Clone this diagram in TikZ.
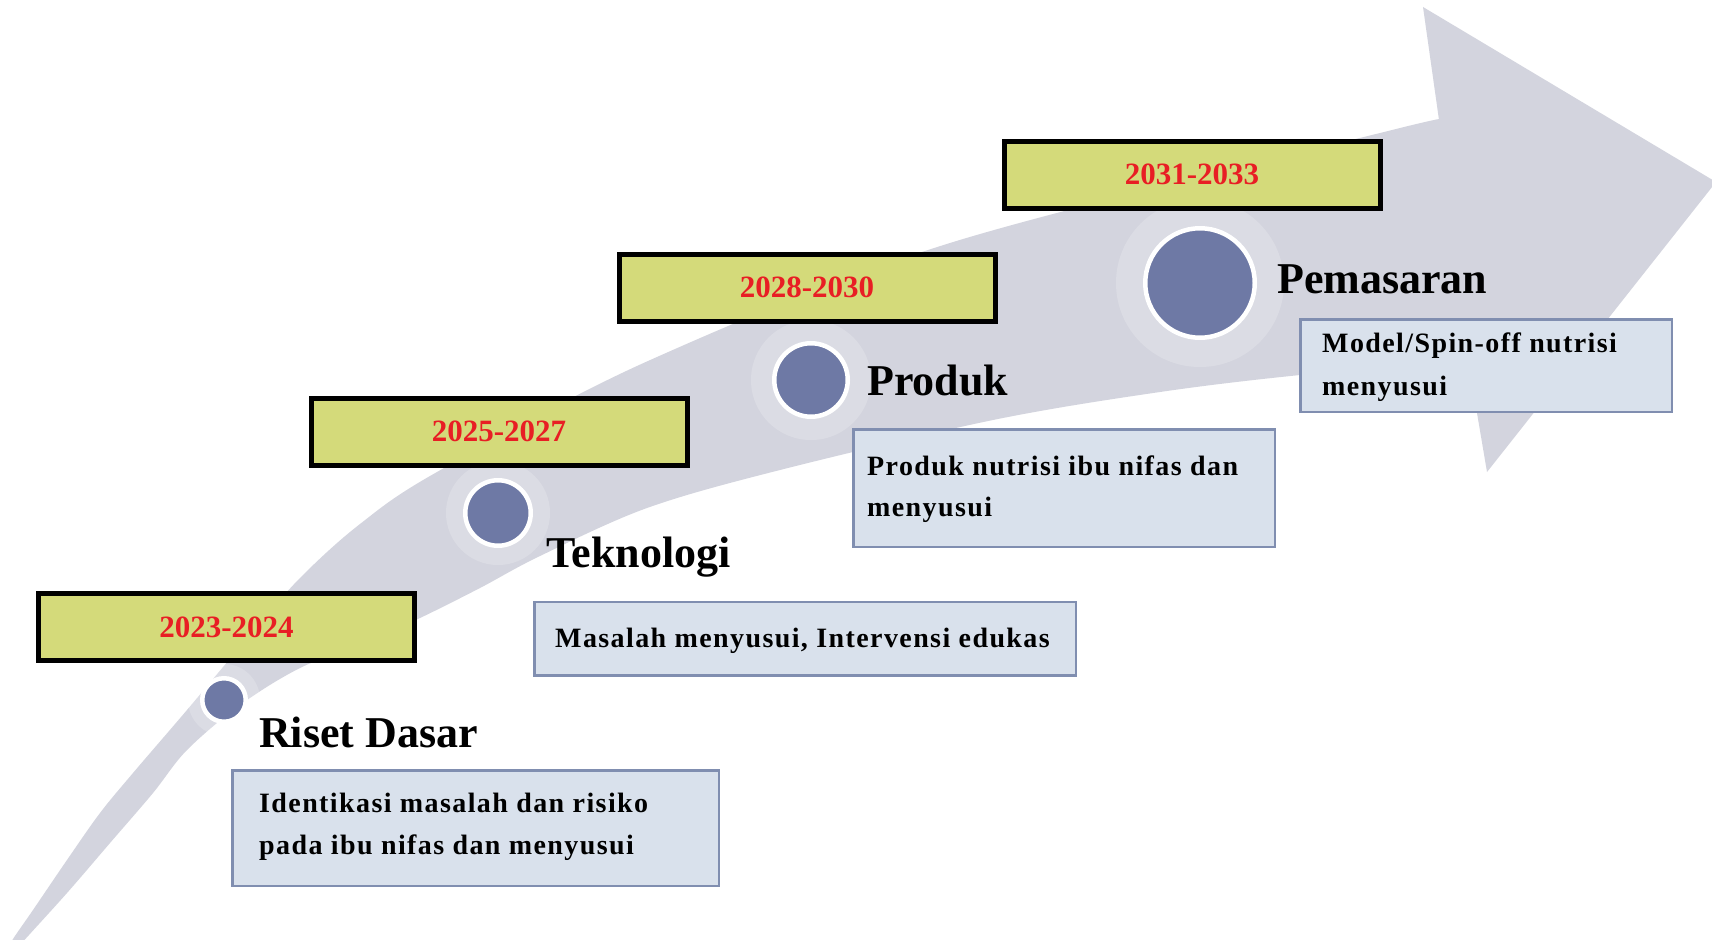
\documentclass[tikz,border=0pt]{standalone}
\usepackage{fontspec}
\setmainfont{Liberation Serif}
\newfontfamily\descfont[LetterSpace=5]{Liberation Serif}
\definecolor{band}{RGB}{211,212,222}
\definecolor{dotc}{RGB}{110,121,165}
\definecolor{yearfill}{RGB}{212,218,122}
\definecolor{yearred}{RGB}{232,30,36}
\definecolor{descfill}{RGB}{217,225,236}
\definecolor{descline}{RGB}{128,142,176}
\tikzset{
  dot/.style={circle, draw=white, line width=4.5pt, fill=dotc, inner sep=0pt},
  halo/.style={fill=white, fill opacity=0.2},
  yearbox/.style={rectangle, draw=black, line width=5pt, fill=yearfill, inner sep=0pt,
    minimum width=376pt, minimum height=67pt,
    font=\fontsize{31}{36}\selectfont\bfseries, text=yearred},
  descbox/.style={rectangle, draw=descline, line width=2.5pt, fill=descfill, inner sep=0pt},
  head/.style={anchor=base west, inner sep=0pt, font=\fontsize{44}{50}\selectfont\bfseries},
  desc/.style={anchor=base west, inner sep=0pt, font=\descfont\fontsize{28}{34}\selectfont\bfseries}
}
\begin{document}
\begin{tikzpicture}[x=1pt,y=-1pt]
\useasboundingbox (0,0) rectangle (1712,939);
\clip (0,0) rectangle (1712,939);
\fill[white] (0,0) rectangle (1712,939);
% curved arrow band
\fill[band] plot[smooth, tension=0.55] coordinates {(2,958) (13,939) (33,910) (67,860) (100,813) (133,773) (187,710) (250,635) (300,578) (360,524) (437,472) (648,361) (950,243) (1384,132) (1439,120)}
  -- (1423,7) -- (1716,182) -- (1487,472) -- (1468,360)
  -- plot[smooth, tension=0.55] coordinates {(1468,360) (1300,375) (1160,392) (993,420) (780,470) (647,508) (540,556) (480,588) (420,618) (370,640) (300,668) (240,705) (187,750) (153,793) (110,843) (67,893) (20,945) (10,958)}
  -- cycle;
% halos
\fill[halo] (224,700) circle (36);
\fill[halo] (498,513) circle (52);
\fill[halo] (811,380) circle (60);
\fill[halo] (1200,283) circle (84);
% year boxes
\node[yearbox] (y1) at (226.5,627) {2023-2024};
\node[yearbox] (y2) at (499,431.5) {2025-2027};
\node[yearbox] (y3) at (807,287.5) {2028-2030};
\node[yearbox] (y4) at (1192,174.5) {2031-2033};
% dots
\node[dot, minimum size=43.5pt] (c1) at (224,700) {};
\node[dot, minimum size=65.5pt] (c2) at (498,513) {};
\node[dot, minimum size=73.5pt] (c3) at (811,380) {};
\node[dot, minimum size=109.5pt] (c4) at (1200,283) {};
% headings
\node[head] (h1) at (259,747) {Riset Dasar};
\node[head] (h2) at (546,567) {Teknologi};
\node[head] (h3) at (867,395) {Produk};
\node[head] (h4) at (1277,293) {Pemasaran};
% description boxes
\node[descbox, minimum width=486.5pt, minimum height=115.5pt] (d1) at (475.5,828) {};
\node[descbox, minimum width=541.5pt, minimum height=73.5pt] (d2) at (805,638.5) {};
\node[descbox, minimum width=421.5pt, minimum height=117.5pt] (d3) at (1064,488) {};
\node[descbox, minimum width=371.5pt, minimum height=92.5pt] (d4) at (1486,365.5) {};
% description texts
\node[desc] (t1a) at (259,812) {Identikasi masalah dan risiko};
\node[desc] (t1b) at (259,854) {pada ibu nifas dan menyusui};
\node[desc] (t2a) at (555,647) {Masalah menyusui, Intervensi edukas};
\node[desc] (t3a) at (867,475) {Produk nutrisi ibu nifas dan};
\node[desc] (t3b) at (867,516) {menyusui};
\node[desc] (t4a) at (1322,352) {Model/Spin-off nutrisi};
\node[desc] (t4b) at (1322,395) {menyusui};
\end{tikzpicture}
\end{document}
